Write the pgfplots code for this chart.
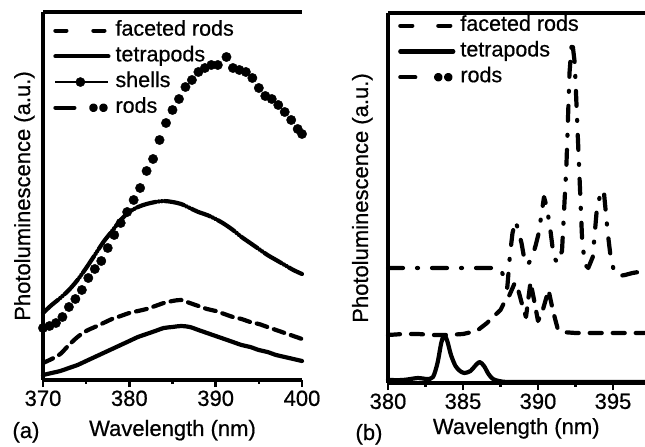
\documentclass[border=0pt]{standalone}
\usepackage{fontspec}
\setmainfont{Liberation Sans}[FakeBold=0.6]
\usepackage{pgfplots}
\pgfplotsset{compat=1.18}

\tikzset{crv/.style={black, line width=4.2bp, line cap=round, line join=round}}

\pgfplotsset{
  panel/.style={
    scale only axis,
    axis x line*=box, axis y line*=left,
    axis line style={line width=3.2bp,-},
    ytick=\empty,
    xtick pos=bottom, xtick align=outside,
    minor x tick num=1,
    major tick length=7bp, minor tick length=4bp,
    every tick/.style={line width=2.5bp,black},
    /pgf/number format/assume math mode=true,
    /pgf/number format/1000 sep={},
    ticklabel style={font=\fontsize{22bp}{24bp}\selectfont},
    label style={font=\fontsize{22bp}{26bp}\selectfont},
    legend cell align=left,
    legend style={draw=none, fill=none, inner sep=0pt, row sep=5.7bp,
      font=\fontsize{21.5bp}{24bp}\selectfont,
      nodes={inner sep=0pt, text height=15bp, text depth=5bp},
      /tikz/every odd column/.append style={column sep=5bp}},
    clip=false,
  },
  legfacA/.style={legend image code/.code={\draw[crv] (0bp,0bp)--(16bp,0bp); \draw[crv] (38bp,0bp)--(51bp,0bp);}},
  legline/.style={legend image code/.code={\draw[crv] (0bp,0bp)--(53bp,0bp);}},
  legshell/.style={legend image code/.code={\draw[black,line width=1.6bp] (0bp,0bp)--(53bp,0bp); \fill[black] (25bp,0bp) circle (4.6bp);}},
  legrods/.style={legend image code/.code={\draw[crv] (0bp,0bp)--(19bp,0bp); \fill (38bp,0bp) circle (2.2bp); \fill (48bp,0bp) circle (2.2bp);}},
}

\begin{document}
\begin{tikzpicture}
\useasboundingbox (0,0) rectangle (645bp,447bp);

% ---------- (a) ----------
\begin{axis}[panel,
  at={(43bp,67bp)}, anchor=south west,
  width=259bp, height=368bp,
  xmin=370, xmax=400, ymin=0, ymax=368,
  xtick={370,380,390,400},
  xlabel={Wavelength (nm)}, ylabel={Photoluminescence (a.u.)},
  xlabel style={at={(axis description cs:0.5,-0.152)}, anchor=base},
  ylabel style={at={(axis description cs:-0.05,0.5)}, anchor=base},
  legend style={at={(axis description cs:0.039,0.977)}, anchor=north west},
]
% faceted rods
\addplot[crv, smooth, dash pattern=on 11bp off 7bp, legfacA]
  coordinates {
  (370,17) (371,21) (372,26) (373,35) (374,43) (375,49) (376,53) (377,57)
  (378,61) (379,64) (380,67) (381,69) (382,71) (383,74) (384,77) (385,79)
  (386,80) (387,77) (388,74) (389,71) (390,69) (391,66) (392,63) (393,61)
  (394,58) (395,56) (396,53) (397,50) (398,47) (399,44) (400,41)
};
\addlegendentry{faceted rods}
% tetrapods
\addplot[crv, smooth, legline]
  coordinates {
  (370,5) (371,7) (372,9) (373,12) (374,15) (375,19) (376,23) (377,27)
  (378,31) (379,35) (380,39) (381,43) (382,46) (383,49) (384,52) (385,53)
  (386,54) (387,53) (388,50) (389,47) (390,44) (391,41) (392,38) (393,35)
  (394,33) (395,30) (396,28) (397,25) (398,23) (399,21) (400,19)
};
\addlegendentry{tetrapods}
% shells
\addplot[black, only marks, mark=*, mark size=4.7bp, legshell]
  coordinates {
  (370.0,52) (370.75,54) (371.5,57) (372.25,63) (373.0,73) (373.75,81)
  (374.5,90) (375.25,102) (376.0,111) (376.75,119) (377.5,132) (378.25,145)
  (379.0,157) (379.75,168) (380.5,180) (381.25,192) (382.0,209) (382.75,221)
  (383.5,240) (384.25,257) (385.0,270) (385.75,281) (386.5,293) (387.25,300)
  (388.0,308) (388.75,312) (389.5,315) (390.25,315) (391.25,323) (392.0,312)
  (392.75,310) (393.5,308) (394.25,302) (395.0,292) (395.75,284) (396.5,281)
  (397.25,275) (398.0,268) (398.75,260) (399.5,251) (400.0,246)
};
\addlegendentry{shells}
% rods
\addplot[crv, smooth, dash pattern=on 20bp off 2.5bp on 0.5bp off 2.5bp on 0.5bp off 2.5bp, legrods]
  coordinates {
  (370,67) (371,75) (372,82) (373,90) (374,100) (375,112) (376,125) (377,138)
  (378,149) (379,160) (380,168) (381,173) (382,176) (383,178) (384,179) (385,178)
  (386,176) (387,172) (388,168) (389,165) (390,161) (391,156) (392,150) (393,143)
  (394,137) (395,131) (396,125) (397,120) (398,115) (399,110) (400,106)
};
\addlegendentry{rods}
\end{axis}

% ---------- (b) ----------
\begin{axis}[panel,
  at={(388bp,64bp)}, anchor=south west,
  width=256.5bp, height=370bp,
  xmin=380, xmax=397.1, ymin=0, ymax=370,
  xtick={380,385,390,395},
  xlabel={Wavelength (nm)}, ylabel={Photoluminescence (a.u.)},
  xlabel style={at={(axis description cs:0.5,-0.138)}, anchor=base},
  ylabel style={at={(axis description cs:-0.078,0.5)}, anchor=base},
  legend style={at={(axis description cs:0.039,0.993)}, anchor=north west},
]
% faceted rods
\addplot[crv, dash pattern=on 12bp off 11bp, legfacA]
  coordinates {
  (380,48) (381,49) (382,49) (383,48) (384,48) (385,49) (385.6,51) (386.0,53)
  (386.6,60) (387.0,66) (387.5,73) (387.8,82) (388.1,88) (388.45,100) (388.7,92)
  (388.95,78) (389.2,66) (389.5,101) (389.75,82) (390.0,62) (390.3,72) (390.7,93)
  (391.0,72) (391.3,55) (391.6,51) (392.5,50) (394,50) (395.5,50) (397.1,50)
};
\addlegendentry{faceted rods}
% tetrapods
\addplot[crv, smooth, legline]
  coordinates {
  (380,3) (381,3) (382,5) (382.6,4) (383.0,6) (383.3,20) (383.55,40) (383.75,48)
  (383.95,42) (384.2,28) (384.5,17) (384.8,12) (385.1,10) (385.5,12) (385.8,17)
  (386.1,21) (386.4,17) (386.7,9) (387.0,4) (387.4,2) (388,1) (390,1) (397.1,1)
};
\addlegendentry{tetrapods}
% rods
\addplot[crv, dash pattern=on 15bp off 14bp on 1bp off 14bp, legrods]
  coordinates {
  (380,115) (382,115) (384,115) (386,115) (387.0,115) (387.5,114) (387.75,105)
  (387.95,95) (388.13,128) (388.3,150) (388.5,162) (388.7,152) (388.9,140)
  (389.1,123) (389.3,118) (389.6,125) (389.85,138) (390.05,150) (390.4,186)
  (390.6,175) (390.85,150) (391.05,126) (391.3,120) (391.6,132) (391.9,220)
  (392.1,310) (392.27,343) (392.45,320) (392.7,230) (392.95,140) (393.15,118)
  (393.35,115) (393.65,126) (393.9,170) (394.2,193) (394.4,190) (394.65,150)
  (394.85,125) (395.1,110) (395.4,107) (395.8,108) (396.3,110) (397.1,112)
};
\addlegendentry{rods}
\end{axis}

\node[anchor=base west, font=\fontsize{22bp}{24bp}\selectfont] at (9bp,9bp) {(a)};
\node[anchor=base west, font=\fontsize{22bp}{24bp}\selectfont] at (352bp,7bp) {(b)};
\end{tikzpicture}
\end{document}
